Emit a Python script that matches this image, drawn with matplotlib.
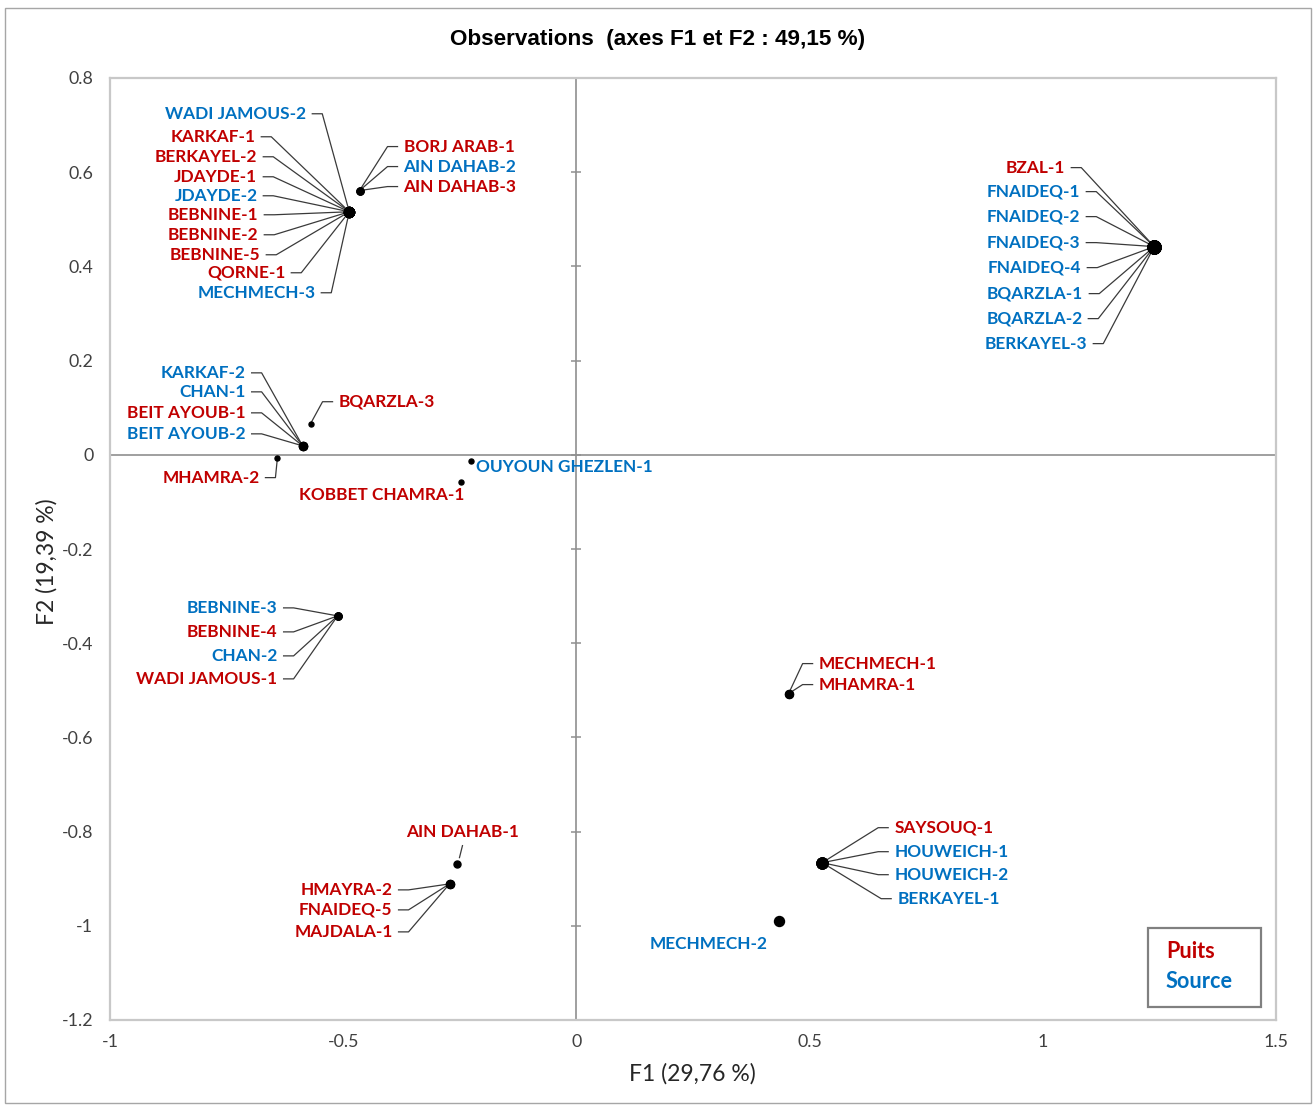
import numpy as np
import matplotlib
matplotlib.use("Agg")
import matplotlib.pyplot as plt
from matplotlib.patches import Rectangle

# observations on the F1 / F2 plane, P = puits, S = source
names = ["WADI JAMOUS-2", "KARKAF-1", "BERKAYEL-2", "JDAYDE-1", "JDAYDE-2",
         "BEBNINE-1", "BEBNINE-2", "BEBNINE-5", "QORNE-1", "MECHMECH-3",
         "BORJ ARAB-1", "AIN DAHAB-2", "AIN DAHAB-3",
         "BZAL-1", "FNAIDEQ-1", "FNAIDEQ-2", "FNAIDEQ-3", "FNAIDEQ-4",
         "BQARZLA-1", "BQARZLA-2", "BERKAYEL-3",
         "KARKAF-2", "CHAN-1", "BEIT AYOUB-1", "BEIT AYOUB-2",
         "BQARZLA-3", "MHAMRA-2", "OUYOUN GHEZLEN-1", "KOBBET CHAMRA-1",
         "BEBNINE-3", "BEBNINE-4", "CHAN-2", "WADI JAMOUS-1",
         "MECHMECH-1", "MHAMRA-1", "AIN DAHAB-1",
         "HMAYRA-2", "FNAIDEQ-5", "MAJDALA-1",
         "SAYSOUQ-1", "HOUWEICH-1", "HOUWEICH-2", "BERKAYEL-1", "MECHMECH-2"]
f1 = [-0.487] * 10 + [-0.465] * 3 + [1.239] * 8 + [-0.587] * 4 + \
     [-0.570, -0.641, -0.227, -0.247] + [-0.512] * 4 + [0.455] * 2 + \
     [-0.255] + [-0.272] * 3 + [0.527] * 4 + [0.435]
f2 = [0.516] * 10 + [0.561] * 3 + [0.442] * 8 + [0.019] * 4 + \
     [0.066, -0.006, -0.013, -0.057] + [-0.342] * 4 + [-0.507] * 2 + \
     [-0.868] + [-0.911] * 3 + [-0.866] * 4 + [-0.989]
kind = ["S", "P", "P", "P", "S", "P", "P", "P", "P", "S",
        "P", "S", "P",
        "P", "S", "S", "S", "S", "S", "S", "S",
        "S", "S", "P", "S",
        "P", "P", "S", "P",
        "S", "P", "S", "P",
        "P", "P", "P",
        "P", "P", "P",
        "P", "S", "S", "S", "S"]

xticks = [-1, -0.5, 0, 0.5, 1, 1.5]
xticklabels = ["-1", "-0.5", "0", "0.5", "1", "1.5"]
yticks = [0.8, 0.6, 0.4, 0.2, 0, -0.2, -0.4, -0.6, -0.8, -1, -1.2]
yticklabels = ["0.8", "0.6", "0.4", "0.2", "0", "-0.2", "-0.4", "-0.6", "-0.8", "-1", "-1.2"]

# label placement in pixels from the point: (dx, dy, mode)
# L = text left of point with leader, R = text right with leader,
# l / r = no leader, c = centered above with short leader
lab = {
    "WADI JAMOUS-2": (-43, 98, "L"), "KARKAF-1": (-94, 75, "L"),
    "BERKAYEL-2": (-92, 55, "L"), "JDAYDE-1": (-92, 35, "L"),
    "JDAYDE-2": (-92, 16, "L"), "BEBNINE-1": (-91, -3, "L"),
    "BEBNINE-2": (-91, -23, "L"), "BEBNINE-5": (-89, -43, "L"),
    "QORNE-1": (-64, -61, "L"), "MECHMECH-3": (-34, -81, "L"),
    "BORJ ARAB-1": (44, 44, "R"), "AIN DAHAB-2": (44, 24, "R"), "AIN DAHAB-3": (44, 4, "R"),
    "BZAL-1": (-89, 79, "L"), "FNAIDEQ-1": (-74, 55, "L"), "FNAIDEQ-2": (-74, 30, "L"),
    "FNAIDEQ-3": (-74, 4, "L"), "FNAIDEQ-4": (-73, -21, "L"), "BQARZLA-1": (-71, -47, "L"),
    "BQARZLA-2": (-72, -72, "L"), "BERKAYEL-3": (-67, -97, "L"),
    "KARKAF-2": (-57, 73, "L"), "CHAN-1": (-57, 54, "L"),
    "BEIT AYOUB-1": (-57, 33, "L"), "BEIT AYOUB-2": (-57, 12, "L"),
    "BQARZLA-3": (28, 22, "R"), "MHAMRA-2": (-18, -20, "L"),
    "OUYOUN GHEZLEN-1": (5, -6, "r"), "KOBBET CHAMRA-1": (3, -13, "l"),
    "BEBNINE-3": (-60, 8, "L"), "BEBNINE-4": (-60, -16, "L"),
    "CHAN-2": (-60, -40, "L"), "WADI JAMOUS-1": (-60, -63, "L"),
    "MECHMECH-1": (30, 30, "R"), "MHAMRA-1": (30, 9, "R"),
    "AIN DAHAB-1": (5, 32, "c"),
    "HMAYRA-2": (-57, -6, "L"), "FNAIDEQ-5": (-57, -26, "L"), "MAJDALA-1": (-57, -48, "L"),
    "SAYSOUQ-1": (72, 35, "R"), "HOUWEICH-1": (72, 11, "R"),
    "HOUWEICH-2": (72, -12, "R"), "BERKAYEL-1": (75, -36, "R"),
    "MECHMECH-2": (-12, -23, "l"),
}
# dot diameter in pixels (overlapping observations drawn bigger)
dot_px = [10] * 10 + [7] * 3 + [13] * 8 + [8] * 4 + [5, 5, 5, 5] + [7] * 4 + \
         [8] * 2 + [7] + [8] * 3 + [11] * 4 + [10]

RED = "#c00000"
BLUE = "#0070c0"
W, H = 1315, 1107

fig = plt.figure(figsize=(W / 100, H / 100), dpi=100)
ax = fig.add_axes([110 / W, 87 / H, 1166 / W, 942 / H])
ax.set_xlim(-1, 1.5)
ax.set_ylim(-1.2, 0.8)

for s in ax.spines.values():
    s.set_color("#c8c8c8")
    s.set_linewidth(1.6)

ax.axhline(0, color="#8f8f8f", lw=1.2, zorder=1)
ax.axvline(0, color="#8f8f8f", lw=1.2, zorder=1)
ax.plot(np.zeros(len(yticks)), yticks, ls="none", marker="_", ms=7.5, mew=1.1,
        color="#8f8f8f", zorder=1)

ax.set_xticks(xticks)
ax.set_xticklabels(xticklabels, fontfamily="Lato", fontsize=12.8, color="#404040")
ax.set_yticks(yticks)
ax.set_yticklabels(yticklabels, fontfamily="Lato", fontsize=12.8, color="#404040")
ax.tick_params(axis="x", length=0, pad=10)
ax.tick_params(axis="y", length=0, pad=12)

# pixels per data unit
pos = ax.get_position()
kx = pos.width * W / 2.5
ky = pos.height * H / 2.0

for n, x, y, k, d in zip(names, f1, f2, kind, dot_px):
    ax.plot(x, y, "o", color="black", ms=d * 0.72, zorder=4)
    dx, dy, mode = lab[n]
    col = RED if k == "P" else BLUE
    ha = {"L": "right", "l": "right", "R": "left", "r": "left", "c": "center"}[mode]
    ax.annotate(n, xy=(x, y), xytext=(dx, dy), textcoords="offset pixels",
                ha=ha, va="center", color=col, fontweight="bold",
                fontfamily="Lato", fontsize=12.4, zorder=5)
    if mode in "LR":
        sgn = 1 if mode == "L" else -1
        px = [dx + sgn * 6, dx + sgn * 16, 0]
        py = [dy, dy, 0]
    elif mode == "c":
        px = [dx, 2]
        py = [dy - 14, 6]
    else:
        continue
    ax.plot(x + np.array(px) / kx, y + np.array(py) / ky, color="#3a3a3a",
            lw=0.9, zorder=3)

fig.text(658 / W, 1 - 39 / H, "Observations  (axes F1 et F2 : 49,15 %)",
         ha="center", va="center", fontsize=16.2, fontweight="bold",
         fontfamily="Liberation Sans")
fig.text(692 / W, 1 - 1074 / H, "F1 (29,76 %)", ha="center", va="center",
         fontsize=16.5, fontfamily="Lato", color="#262626")
fig.text(47 / W, 1 - 562 / H, "F2 (19,39 %)", ha="center", va="center",
         rotation=90, fontsize=16.5, fontfamily="Lato", color="#262626")

# legend box
fig.patches.append(Rectangle((1148 / W, 1 - 1007 / H), 113 / W, 79 / H,
                             transform=fig.transFigure, fill=False,
                             ec="#808080", lw=1.6, zorder=6))
fig.text(1166 / W, 1 - 952 / H, "Puits", color=RED, fontweight="bold",
         fontfamily="Lato", fontsize=15.6, va="center")
fig.text(1166 / W, 1 - 982 / H, "Source", color=BLUE, fontweight="bold",
         fontfamily="Lato", fontsize=15.6, va="center")

# chart border
fig.patches.append(Rectangle((5 / W, 4 / H), 1306 / W, 1095 / H,
                             transform=fig.transFigure, fill=False,
                             ec="#a6a6a6", lw=1))

fig.savefig("out.png", dpi=100)
